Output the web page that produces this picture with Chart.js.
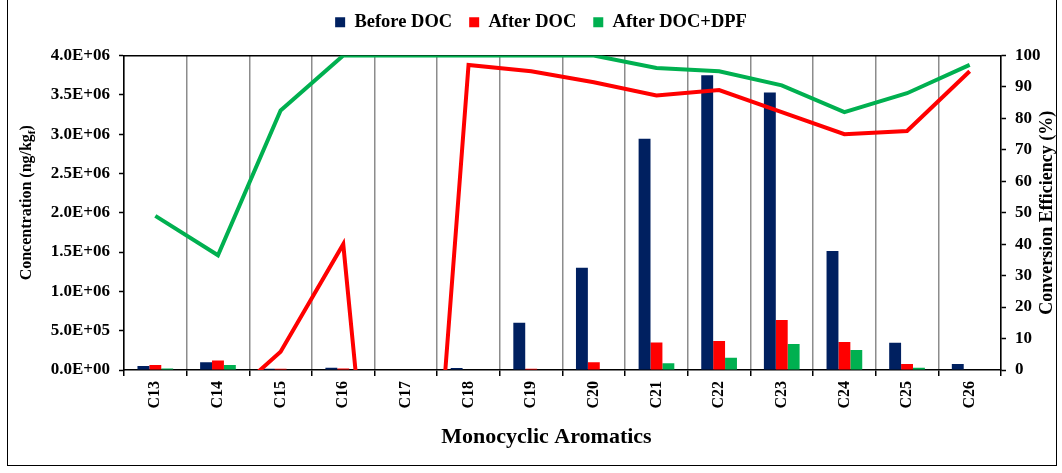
<!DOCTYPE html>
<html><head><meta charset="utf-8">
<script src="https://cdn.jsdelivr.net/npm/chart.js@4.4.1/dist/chart.umd.min.js"></script>
<style>
html,body{margin:0;padding:0;background:#fff;}
#wrap{position:relative;width:1062px;height:473px;overflow:hidden;}
#frame{position:absolute;left:7px;top:-4px;width:1050px;height:470px;border:1.5px solid #000;box-sizing:border-box;pointer-events:none;}
canvas{position:absolute;left:0;top:0;}
</style></head><body>
<div id="wrap"><canvas id="c" width="1062" height="473"></canvas><div id="frame"></div></div>
<script>
const categories = ['C13','C14','C15','C16','C17','C18','C19','C20','C21','C22','C23','C24','C25','C26'];
const seriesNames = ['Before DOC','After DOC','After DOC+DPF'];
const beforeDOC = [50000, 100000, 15000, 30000, 0, 25000, 600000, 1300000, 2940000, 3750000, 3530000, 1515000, 347000, 76000];
const afterDOC = [65000, 120000, 15000, 20000, 0, 0, 15000, 100000, 350000, 370000, 635000, 356000, 76000, 0];
const afterDOCDPF = [20000, 63000, 0, 0, 0, 0, 0, 0, 85000, 157000, 330000, 254000, 30000, 0];
const effDOC = [-30, -12, 5.8, 40, -165, 97, 95, 91.5, 87.3, 89, 82, 75, 76, 95];
const effDOCDPF = [49, 36.5, 82.5, 100, 100, 100, 100, 100, 96, 95, 90.5, 82, 88, 97];
const concTicks = {min: 0, max: 4000000, step: 500000};
const effTicks = {min: 0, max: 100, step: 10};
const xTitle = 'Monocyclic Aromatics';
const leftTitle = ['Concentration (ng/kg', 'f', ')'];
const rightTitle = 'Conversion Efficiency (%)';

const FONT = '"Liberation Serif", "Times New Roman", serif';
const NAVY = '#002060', RED = '#FF0000', GREEN = '#00B050';

function sci(v){
  if (v === 0) return '0.0E+00';
  const e = Math.floor(Math.log10(v) + 1e-9);
  const m = v / Math.pow(10, e);
  return m.toFixed(1) + 'E+' + String(e).padStart(2, '0');
}

const axisTitles = {
  id: 'axisTitles',
  afterDraw(chart){
    const {ctx, chartArea} = chart;
    const cy = (chartArea.top + chartArea.bottom) / 2;
    ctx.save();
    ctx.fillStyle = '#000';
    ctx.textBaseline = 'middle';
    ctx.textAlign = 'left';
    const big = 'bold 16px ' + FONT, small = 'bold 11px ' + FONT;
    ctx.font = big; const w0 = ctx.measureText(leftTitle[0]).width, w2 = ctx.measureText(leftTitle[2]).width;
    ctx.font = small; const w1 = ctx.measureText(leftTitle[1]).width;
    const tot = w0 + w1 + w2;
    ctx.translate(27, cy - 10); ctx.rotate(-Math.PI/2);
    let x = -tot/2;
    ctx.font = big; ctx.fillText(leftTitle[0], x, 0); x += w0;
    ctx.font = small; ctx.fillText(leftTitle[1], x, 5); x += w1;
    ctx.font = big; ctx.fillText(leftTitle[2], x, 0);
    ctx.restore();

    ctx.save();
    ctx.fillStyle = '#000';
    ctx.textBaseline = 'middle';
    ctx.textAlign = 'center';
    ctx.font = 'bold 18px ' + FONT;
    ctx.translate(1047, cy); ctx.rotate(-Math.PI/2);
    ctx.fillText(rightTitle, 0, 0);
    ctx.restore();

    ctx.save();
    ctx.fillStyle = '#000';
    ctx.textBaseline = 'middle';
    ctx.textAlign = 'center';
    ctx.font = 'bold 22px ' + FONT;
    ctx.fillText(xTitle, (chartArea.left + chartArea.right) / 2 - 16, 437);
    ctx.restore();
  }
};

const ctx = document.getElementById('c').getContext('2d');
new Chart(ctx, {
  type: 'bar',
  data: {
    labels: categories,
    datasets: [
      {label: seriesNames[0], data: beforeDOC, backgroundColor: NAVY, yAxisID: 'y', xAxisID: 'x', order: 2, categoryPercentage: 0.57, barPercentage: 1.0},
      {label: seriesNames[1], data: afterDOC, backgroundColor: RED, yAxisID: 'y', xAxisID: 'x', order: 2, categoryPercentage: 0.57, barPercentage: 1.0},
      {label: seriesNames[2], data: afterDOCDPF, backgroundColor: GREEN, yAxisID: 'y', xAxisID: 'x', order: 2, categoryPercentage: 0.57, barPercentage: 1.0},
      {type: 'line', label: 'DOC efficiency', data: effDOC, borderColor: RED, backgroundColor: RED, borderWidth: 4, pointRadius: 0, tension: 0, yAxisID: 'y1', xAxisID: 'x', order: 1, clip: 0, borderJoinStyle: 'miter'},
      {type: 'line', label: 'DOC+DPF efficiency', data: effDOCDPF, borderColor: GREEN, backgroundColor: GREEN, borderWidth: 4, pointRadius: 0, tension: 0, yAxisID: 'y1', xAxisID: 'x', order: 1, clip: 0, borderJoinStyle: 'miter'}
    ]
  },
  options: {
    responsive: false,
    animation: false,
    devicePixelRatio: 1,
    layout: {padding: {top: -4, bottom: 20, left: 20, right: 0}},
    plugins: {
      legend: {
        display: true, position: 'top',
        labels: {
          filter: item => item.datasetIndex < 3,
          boxWidth: 10, boxHeight: 10, padding: 17, color: '#000',
          font: {family: FONT, size: 18.5, weight: 'bold'}
        }
      },
      tooltip: {enabled: false}
    },
    scales: {
      x: {
        type: 'category', position: 'bottom', offset: true,
        grid: {display: true, offset: true, drawOnChartArea: true, color: '#8c8c8c', lineWidth: 1.5, drawTicks: true, tickLength: 6, tickColor: '#000', tickWidth: 1.5},
        border: {display: true, color: '#000', width: 1.5},
        ticks: {autoSkip: false, minRotation: 90, maxRotation: 90, padding: 5, color: '#000', font: {family: FONT, size: 16, weight: 'bold'}},
        title: {display: false},
        afterFit: s => { s.height = 83; }
      },
      xTop: {
        type: 'category', position: 'top', offset: true,
        grid: {display: true, drawOnChartArea: false, drawTicks: false, lineWidth: 1.5, color: '#000'},
        border: {display: true, color: '#000', width: 1.5},
        ticks: {display: false},
        afterFit: s => { s.height = 14; }
      },
      y: {
        type: 'linear', position: 'left', min: concTicks.min, max: concTicks.max,
        grid: {display: true, drawOnChartArea: false, drawTicks: true, tickLength: 5, tickColor: '#000', tickWidth: 1.5, color: '#000'},
        border: {display: true, color: '#000', width: 1.5},
        ticks: {stepSize: concTicks.step, maxTicksLimit: 20, padding: 9, color: '#000', font: {family: FONT, size: 17, weight: 'bold'}, callback: v => sci(v)},
        afterFit: s => { s.width = 104; }
      },
      y1: {
        type: 'linear', position: 'right', min: effTicks.min, max: effTicks.max,
        grid: {display: true, drawOnChartArea: false, drawTicks: true, tickLength: 5, tickColor: '#000', tickWidth: 1.5, color: '#000'},
        border: {display: true, color: '#000', width: 1.5},
        ticks: {stepSize: effTicks.step, maxTicksLimit: 20, padding: 9, color: '#000', font: {family: FONT, size: 17, weight: 'bold'}},
        afterFit: s => { s.width = 61; }
      }
    }
  },
  plugins: [axisTitles]
});
</script>
</body></html>
